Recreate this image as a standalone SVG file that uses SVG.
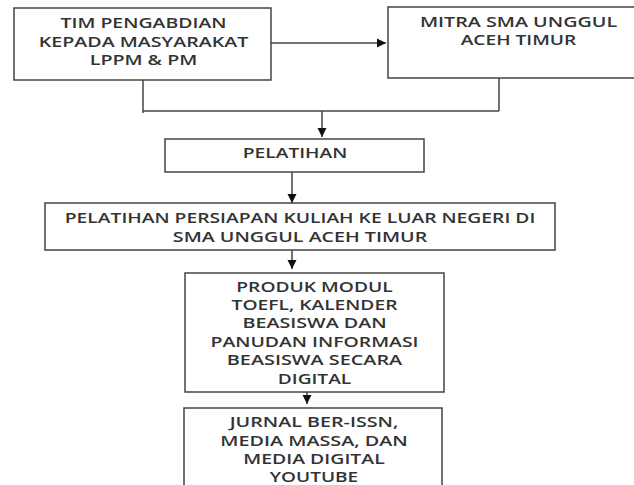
<svg xmlns="http://www.w3.org/2000/svg" width="634" height="485" viewBox="0 0 634 485">
<defs>
<style>
.box{fill:#fff;stroke:#444;stroke-width:1.5}
.t{font-family:"Open Sans","Liberation Sans",sans-serif;font-size:14px;font-weight:600;fill:#333;text-anchor:middle}
.c{fill:none;stroke:#444;stroke-width:1.5}
</style>
<marker id="ah" markerUnits="userSpaceOnUse" markerWidth="12" markerHeight="12" refX="9" refY="5" orient="auto">
<path d="M0,0.5 L9,5 L0,9.5 Z" fill="#111"/>
</marker>
</defs>
<rect width="634" height="485" fill="#fff"/>
<g id="connectors">
<line class="c" x1="271" y1="43" x2="386" y2="43" marker-end="url(#ah)"/>
<line class="c" x1="143" y1="80" x2="143" y2="113"/>
<line class="c" x1="143" y1="111" x2="499" y2="111"/>
<line class="c" x1="499" y1="78" x2="499" y2="111"/>
<line class="c" x1="322" y1="111" x2="322" y2="137" marker-end="url(#ah)"/>
<line class="c" x1="292" y1="172" x2="292" y2="203" marker-end="url(#ah)"/>
<line class="c" x1="292" y1="250" x2="292" y2="269" marker-end="url(#ah)"/>
<line class="c" x1="307" y1="392" x2="307" y2="404" marker-end="url(#ah)"/>
</g>
<g id="tim">
<rect class="box" x="14" y="8" width="257" height="72"/>
<g transform="translate(143.5 0) scale(1.36 1)">
<text class="t" x="0" y="28" textLength="122" lengthAdjust="spacingAndGlyphs">TIM PENGABDIAN</text>
<text class="t" x="0" y="47" textLength="154" lengthAdjust="spacingAndGlyphs">KEPADA MASYARAKAT</text>
<text class="t" x="0" y="65" textLength="79" lengthAdjust="spacingAndGlyphs">LPPM &amp; PM</text>
</g>
</g>
<g id="mitra">
<rect class="box" x="388" y="7" width="262" height="71"/>
<g transform="translate(518.5 0) scale(1.36 1)">
<text class="t" x="0" y="27" textLength="145" lengthAdjust="spacingAndGlyphs">MITRA SMA UNGGUL</text>
<text class="t" x="0" y="45" textLength="85" lengthAdjust="spacingAndGlyphs">ACEH TIMUR</text>
</g>
</g>
<g id="pelatihan">
<rect class="box" x="165" y="139" width="259" height="33"/>
<g transform="translate(295 0) scale(1.36 1)">
<text class="t" x="0" y="158" textLength="77" lengthAdjust="spacingAndGlyphs">PELATIHAN</text>
</g>
</g>
<g id="persiapan">
<rect class="box" x="45" y="203" width="510" height="47"/>
<g transform="translate(300 0) scale(1.36 1)">
<text class="t" x="0" y="223" textLength="346" lengthAdjust="spacingAndGlyphs">PELATIHAN PERSIAPAN KULIAH KE LUAR NEGERI DI</text>
<text class="t" x="0" y="242" textLength="187" lengthAdjust="spacingAndGlyphs">SMA UNGGUL ACEH TIMUR</text>
</g>
</g>
<g id="produk">
<rect class="box" x="185" y="273" width="259" height="119"/>
<g transform="translate(314.5 0) scale(1.36 1)">
<text class="t" x="0" y="292" textLength="115" lengthAdjust="spacingAndGlyphs">PRODUK MODUL</text>
<text class="t" x="0" y="310" textLength="122" lengthAdjust="spacingAndGlyphs">TOEFL, KALENDER</text>
<text class="t" x="0" y="328" textLength="106" lengthAdjust="spacingAndGlyphs">BEASISWA DAN</text>
<text class="t" x="0" y="347" textLength="153" lengthAdjust="spacingAndGlyphs">PANUDAN INFORMASI</text>
<text class="t" x="0" y="365" textLength="129" lengthAdjust="spacingAndGlyphs">BEASISWA SECARA</text>
<text class="t" x="0" y="384" textLength="54" lengthAdjust="spacingAndGlyphs">DIGITAL</text>
</g>
</g>
<g id="jurnal">
<rect class="box" x="184" y="408" width="258" height="90"/>
<g transform="translate(314 0) scale(1.36 1)">
<text class="t" x="0" y="427" textLength="124" lengthAdjust="spacingAndGlyphs">JURNAL BER-ISSN,</text>
<text class="t" x="0" y="446" textLength="138" lengthAdjust="spacingAndGlyphs">MEDIA MASSA, DAN</text>
<text class="t" x="0" y="464" textLength="104" lengthAdjust="spacingAndGlyphs">MEDIA DIGITAL</text>
<text class="t" x="0" y="482" textLength="65" lengthAdjust="spacingAndGlyphs">YOUTUBE</text>
</g>
</g>
</svg>
